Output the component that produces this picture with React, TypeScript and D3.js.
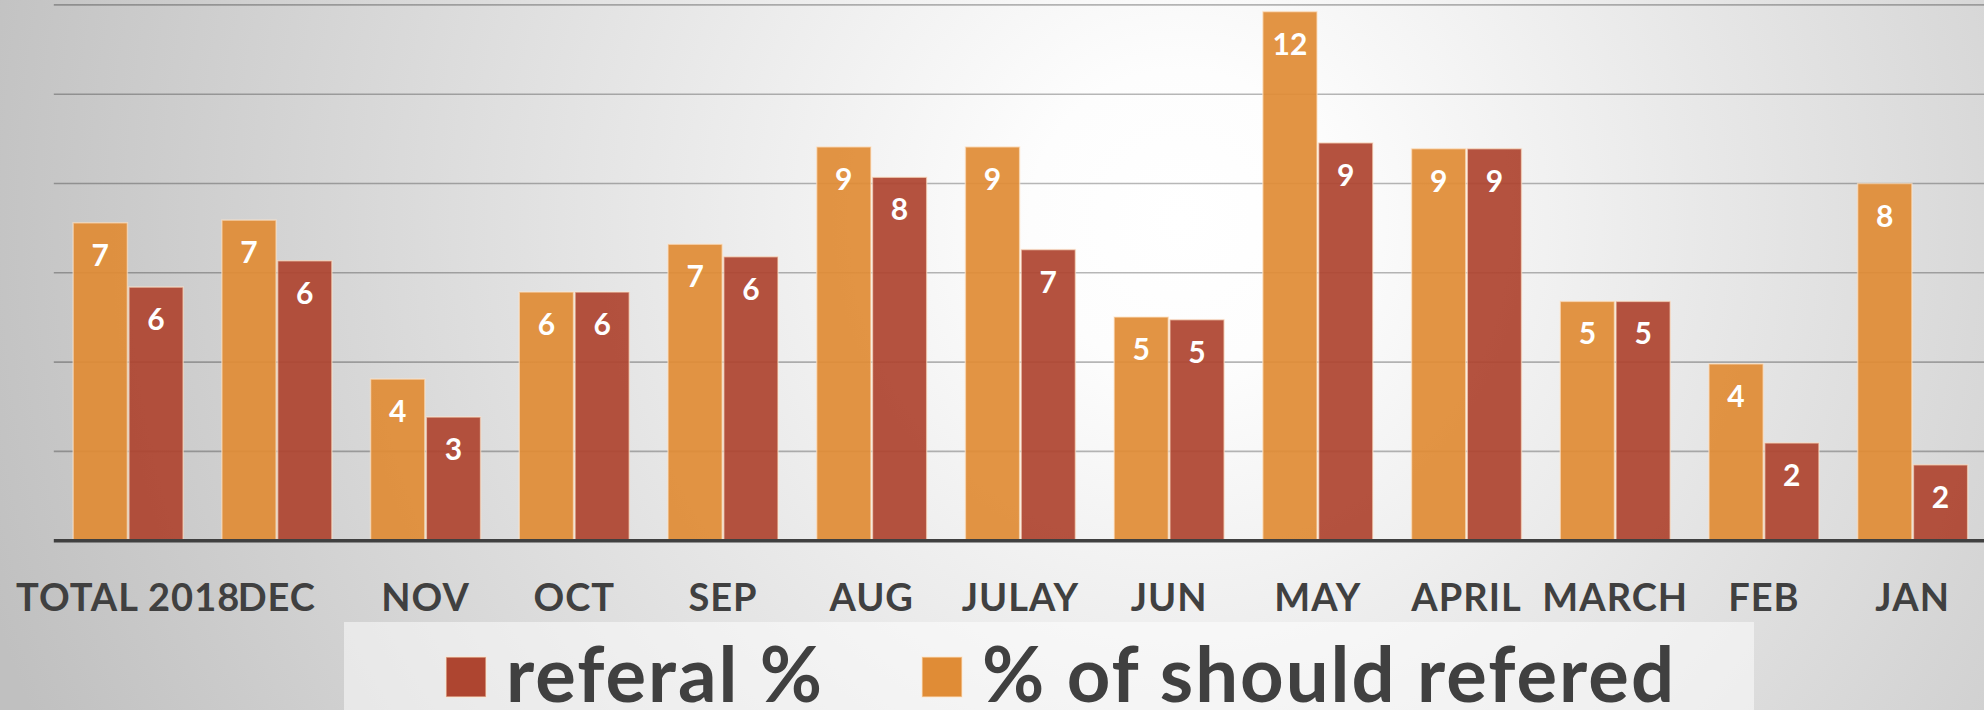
import React from "react";
import * as d3 from "d3";

const categories = ["TOTAL 2018", "DEC", "NOV", "OCT", "SEP", "AUG", "JULAY", "JUN", "MAY", "APRIL", "MARCH", "FEB", "JAN"];
const shouldReferred = [7.12, 7.18, 3.62, 5.57, 6.64, 8.82, 8.82, 5.01, 11.85, 8.78, 5.36, 3.96, 8.0];
const referral = [5.68, 6.27, 2.77, 5.57, 6.36, 8.14, 6.52, 4.95, 8.91, 8.78, 5.36, 2.19, 1.7];
const yTicks = [2, 4, 6, 8, 10, 12];
const seriesNames = ["% of should refered", "referal %"];
const legendOrder = ["referal %", "% of should refered"];

const W = 1984;
const H = 710;
const COLORS: Record<string, string> = {
  "% of should refered": "#E08C36",
  "referal %": "#AE4530",
};
const FONT = "Lato, 'Open Sans', sans-serif";

export default function App() {
  const x0 = d3.scaleBand<string>().domain(categories).range([53.8, 1987]).paddingInner(0.25).paddingOuter(0.125);
  const x1 = d3.scaleBand<string>().domain(seriesNames).range([0, x0.bandwidth()]).padding(0);
  const y = d3.scaleLinear().domain([0, 12]).range([540.7, 4.9]);
  const seriesValues: Record<string, number[]> = {
    "% of should refered": shouldReferred,
    "referal %": referral,
  };

  return (
    <div style={{ position: "absolute", left: 0, top: 0 }}>
      <svg width={W} height={H} style={{ display: "block" }}>
        <defs>
          <radialGradient id="bg" gradientUnits="userSpaceOnUse" cx={1180} cy={220} r={1250}>
            <stop offset="0" stopColor="#ffffff" />
            <stop offset="0.12" stopColor="#fdfdfd" />
            <stop offset="1" stopColor="#c0c0c0" />
          </radialGradient>
        </defs>
        <rect x={0} y={0} width={W} height={H} fill="url(#bg)" />
        {yTicks.map((t) => (
          <line key={t} x1={53.8} x2={W} y1={y(t)} y2={y(t)} stroke="#000" strokeOpacity={0.28} strokeWidth={1.6} />
        ))}
        {categories.map((c, i) => (
          <g key={c} transform={`translate(${x0(c)},0)`}>
            {seriesNames.map((s) => {
              const v = seriesValues[s][i];
              const bx = x1(s)!;
              const bw = x1.bandwidth();
              return (
                <g key={s}>
                  <rect
                    x={bx + 0.75}
                    y={y(v)}
                    width={bw - 1.5}
                    height={y(0) - y(v)}
                    fill={COLORS[s]}
                    fillOpacity={0.93}
                    stroke="#ffe6cc"
                    strokeOpacity={0.6}
                    strokeWidth={1.5}
                  />
                  <text
                    x={bx + bw / 2}
                    y={y(v) + 43}
                    textAnchor="middle"
                    fill="#ffffff"
                    fontFamily={FONT}
                    fontWeight={700}
                    fontSize={30}
                  >
                    {Math.round(v)}
                  </text>
                </g>
              );
            })}
          </g>
        ))}
        <line x1={53.8} x2={W} y1={y(0)} y2={y(0)} stroke="#404040" strokeWidth={3.4} />
        {categories.map((c) => (
          <text
            key={c}
            x={x0(c)! + x0.bandwidth() / 2}
            y={611}
            textAnchor="middle"
            fill="#404040"
            fontFamily={FONT}
            fontWeight={700}
            fontSize={38}
            letterSpacing={1}
          >
            {c}
          </text>
        ))}
        <rect x={344} y={622} width={1410} height={90} fill="#ffffff" fillOpacity={0.5} />
        {legendOrder.map((s, i) => {
          const lx = i === 0 ? 446 : 922;
          return (
            <g key={s}>
              <rect x={lx} y={657} width={40} height={40} fill={COLORS[s]} stroke="#ffe6cc" strokeOpacity={0.6} strokeWidth={1.5} />
              <text x={lx + 60} y={702} fill="#404040" fontFamily={FONT} fontWeight={700} fontSize={76} letterSpacing={2}>
                {s}
              </text>
            </g>
          );
        })}
      </svg>
    </div>
  );
}
